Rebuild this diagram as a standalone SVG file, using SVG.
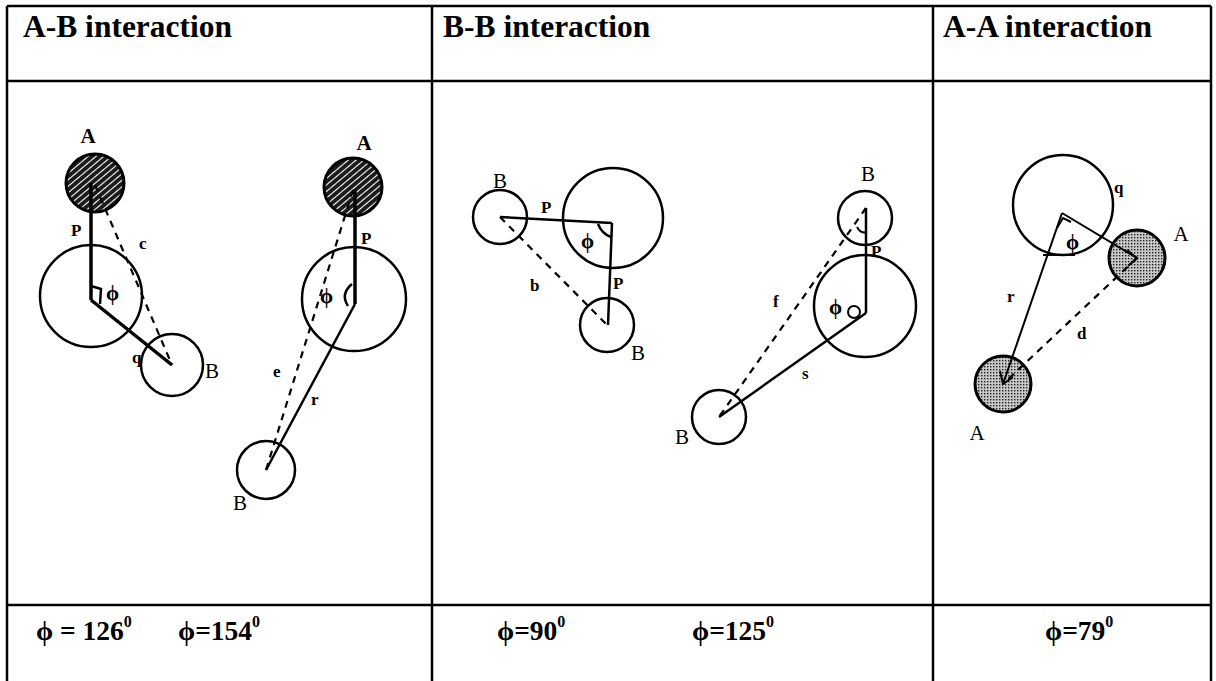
<svg xmlns="http://www.w3.org/2000/svg" width="1216" height="681" viewBox="0 0 1216 681">
<style>
.grid{stroke:#000;stroke-width:2.5;fill:none}
.hdr{font-family:"Liberation Serif","Times New Roman",serif;font-weight:bold;font-size:31.5px;fill:#000}
.phi{font-family:"Liberation Serif","Times New Roman",serif;font-weight:bold;font-size:27.5px;fill:#000}
.sup{font-size:16px}
.lbl{font-family:"Liberation Serif","Times New Roman",serif;font-size:21px;fill:#000}
.sm{font-family:"Liberation Serif","Times New Roman",serif;font-weight:bold;font-size:17px;fill:#000}
.ph{font-family:"Liberation Serif","Times New Roman",serif;font-weight:bold;font-size:21px;fill:#000}
.circ{fill:#fff;stroke:#000;stroke-width:2.5}
.thin{fill:none;stroke:#000;stroke-width:2}
.solid{fill:none;stroke:#000;stroke-width:2.5}
.thick{fill:none;stroke:#000;stroke-width:3.5}
.dash{fill:none;stroke:#000;stroke-width:2.2;stroke-dasharray:7 6}
.hatchA{fill:url(#hatch);stroke:#000;stroke-width:3}
.dotA{fill:url(#dots);stroke:#000;stroke-width:3}
</style>
<defs>
<pattern id="hatch" patternUnits="userSpaceOnUse" width="5" height="5" patternTransform="rotate(-40)">
<rect width="5" height="5" fill="#1a1a1a"/>
<line x1="0" y1="1.5" x2="5" y2="1.5" stroke="#fff" stroke-width="1.1"/>
</pattern>
<pattern id="dots" patternUnits="userSpaceOnUse" width="3" height="3">
<rect width="3" height="3" fill="#c8c8c8"/>
<rect x="0" y="0" width="1.4" height="1.4" fill="#222"/>
</pattern>
</defs>
<rect width="1216" height="681" fill="#fff"/>

<g id="table">
<line class="grid" x1="7" y1="6" x2="1211" y2="6"/>
<line class="grid" x1="7" y1="6" x2="7" y2="681"/>
<line class="grid" x1="1211" y1="6" x2="1211" y2="681"/>
<line class="grid" x1="432" y1="6" x2="432" y2="681"/>
<line class="grid" x1="933" y1="6" x2="933" y2="681"/>
<line class="grid" x1="7" y1="81" x2="1211" y2="81"/>
<line class="grid" x1="7" y1="605" x2="1211" y2="605"/>
<text class="hdr" x="23" y="37">A-B interaction</text>
<text class="hdr" x="443" y="37">B-B interaction</text>
<text class="hdr" x="943" y="37">A-A interaction</text>
<text class="phi" x="36" y="640">ϕ = 126<tspan class="sup" dy="-13">0</tspan></text>
<text class="phi" x="178" y="640">ϕ=154<tspan class="sup" dy="-13">0</tspan></text>
<text class="phi" x="497" y="640">ϕ=90<tspan class="sup" dy="-13">0</tspan></text>
<text class="phi" x="692" y="640">ϕ=125<tspan class="sup" dy="-13">0</tspan></text>
<text class="phi" x="1045" y="640">ϕ=79<tspan class="sup" dy="-13">0</tspan></text>
</g>

<g id="ab1">
<circle class="circ" cx="91" cy="296" r="51"/>
<circle class="circ" cx="172" cy="365" r="31"/>
<circle class="hatchA" cx="95" cy="183" r="29"/>
<text class="lbl" x="88" y="143" text-anchor="middle" font-weight="bold">A</text>
<text class="lbl" x="205" y="378">B</text>
<text class="sm" x="71" y="236">P</text>
<text class="sm" x="139" y="249">c</text>
<text class="ph" x="106" y="300">ϕ</text>
<text class="sm" x="132" y="363">q</text>
</g>

<g id="ab2">
<circle class="circ" cx="354" cy="299" r="52"/>
<circle class="circ" cx="266" cy="470" r="29"/>
<circle class="hatchA" cx="353" cy="187" r="29"/>
<text class="lbl" x="364" y="150" text-anchor="middle" font-weight="bold">A</text>
<text class="lbl" x="233" y="510">B</text>
<text class="sm" x="361" y="244">P</text>
<text class="sm" x="273" y="377">e</text>
<text class="sm" x="311" y="405">r</text>
<text class="ph" x="320" y="303">ϕ</text>
</g>

<g id="bb1">
<circle class="circ" cx="613" cy="218" r="50"/>
<circle class="circ" cx="500" cy="217" r="27"/>
<circle class="circ" cx="607" cy="325" r="27"/>
<text class="lbl" x="500" y="188" text-anchor="middle">B</text>
<text class="lbl" x="638" y="360" text-anchor="middle">B</text>
<text class="sm" x="541" y="213">P</text>
<text class="sm" x="613" y="289">P</text>
<text class="sm" x="530" y="291">b</text>
<text class="ph" x="581" y="248">ϕ</text>
</g>

<g id="bb2">
<circle class="circ" cx="865" cy="306" r="51"/>
<circle class="circ" cx="865" cy="218" r="27"/>
<circle class="circ" cx="719" cy="417" r="27"/>
<text class="lbl" x="868" y="181" text-anchor="middle">B</text>
<text class="lbl" x="682" y="444" text-anchor="middle">B</text>
<text class="sm" x="871" y="257">P</text>
<text class="sm" x="773" y="307">f</text>
<text class="sm" x="802" y="379">s</text>
<text class="ph" x="829" y="314">ϕ</text>
</g>

<g id="aa">
<circle class="circ" cx="1063" cy="205" r="50" stroke-width="2"/>
<circle class="dotA" cx="1137" cy="258" r="28"/>
<circle class="dotA" cx="1003" cy="384" r="28"/>
<text class="lbl" x="1181" y="241" text-anchor="middle">A</text>
<text class="lbl" x="977" y="440" text-anchor="middle">A</text>
<text class="sm" x="1114" y="193">q</text>
<text class="ph" x="1066" y="249">ϕ</text>
<text class="sm" x="1007" y="302">r</text>
<text class="sm" x="1077" y="339">d</text>
</g>

<g id="connectors">
<!-- A-B left -->
<line class="thick" x1="91" y1="183" x2="91" y2="300"/>
<line class="thick" x1="91" y1="300" x2="172" y2="365"/>
<line class="dash" x1="95" y1="185" x2="172" y2="365"/>
<path class="solid" d="M91,286 L101,289 L100,304"/>
<!-- A-B right -->
<line class="thick" x1="355" y1="190" x2="355" y2="304"/>
<line class="solid" x1="355" y1="304" x2="266" y2="470"/>
<line class="dash" x1="353" y1="190" x2="266" y2="470"/>
<path class="solid" d="M352,284 Q340,294 348,306"/>
<!-- B-B left -->
<line class="solid" x1="500" y1="217" x2="612" y2="223"/>
<line class="solid" x1="612" y1="223" x2="608" y2="325"/>
<line class="dash" x1="500" y1="217" x2="607" y2="325"/>
<path class="solid" d="M598,224 Q602,234 611,237"/>
<!-- B-B right -->
<line class="solid" x1="866" y1="208" x2="866" y2="313"/>
<line class="solid" x1="866" y1="313" x2="719" y2="417"/>
<line class="dash" x1="866" y1="208" x2="719" y2="417"/>
<circle class="thin" cx="854" cy="312" r="6"/>
<path class="thin" d="M857,227 Q861,234 866,232"/>
<!-- A-A -->
<line class="thin" x1="1062" y1="213" x2="1003" y2="384"/>
<line class="thin" x1="1062" y1="213" x2="1137" y2="258"/>
<line class="dash" x1="1137" y1="258" x2="1003" y2="384"/>
<path class="thin" d="M1057,228 L1063,218 L1071,222"/>
<line class="thin" x1="1043" y1="255" x2="1075" y2="255"/>
<path class="thin" d="M1127,250 L1137,258 L1128,266"/>
<path class="thin" d="M1000,371 L1003,384 L1013,377"/>
</g>
</svg>
